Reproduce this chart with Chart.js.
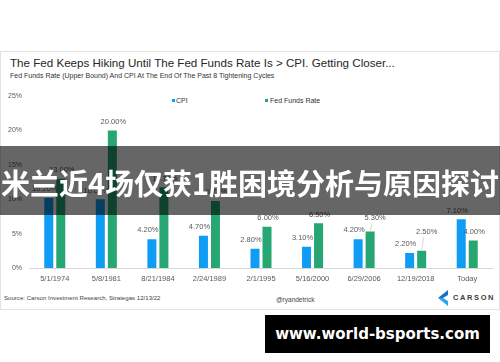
<!DOCTYPE html>
<html>
<head>
<meta charset="utf-8">
<script src="https://cdn.jsdelivr.net/npm/chart.js@4/dist/chart.umd.min.js"></script>
<style>
  html, body { margin: 0; padding: 0; background: #fff; }
  body { width: 500px; height: 362px; position: relative; overflow: hidden; font-family: "Liberation Sans", Arial, sans-serif; }
  .abs { position: absolute; white-space: nowrap; }
  #panel { position: absolute; left: 0; top: 51px; width: 498px; height: 257px; border: 1px solid #e3e3e3; }
  #title { left: 10px; top: 57px; font-size: 11.6px; line-height: 12px; color: #262626; }
  #subtitle { left: 10px; top: 72px; font-size: 7px; line-height: 7px; color: #333; }
  .lg { top: 97px; font-size: 7px; line-height: 7px; color: #333; }
  .sq { position: absolute; width: 3px; height: 3px; top: 99px; }
  #chartWrap { position: absolute; left: 0; top: 85px; width: 500px; height: 200px; }
  #source { left: 4px; top: 295px; font-size: 6.1px; line-height: 6px; color: #444; }
  #handle { left: 276px; top: 296px; font-size: 6.5px; line-height: 7px; color: #444; }
  #carson { left: 453px; top: 294px; font-size: 7.5px; line-height: 8px; color: #3d3d3d; letter-spacing: 1.6px; font-weight: bold; }
  #logo { position: absolute; left: 438px; top: 290px; }
  #banner { position: absolute; left: 0; top: 146px; width: 500px; height: 69px; background: rgba(0,0,0,0.6);
            color: #fff; font-family: "Noto Sans CJK SC", sans-serif; font-weight: bold; font-size: 29px;
            line-height: 72px; text-align: center; white-space: nowrap; letter-spacing: 0px; }
  #wm { position: absolute; left: 265px; top: 315px; width: 225px; height: 38px; background: #000; color: #fff;
        font-family: "DejaVu Sans", sans-serif; font-weight: bold; font-size: 15px; line-height: 38px; text-align: center; white-space: nowrap; }
</style>
</head>
<body>
<div id="panel"></div>
<div id="title" class="abs">The Fed Keeps Hiking Until The Fed Funds Rate Is &gt; CPI. Getting Closer...</div>
<div id="subtitle" class="abs">Fed Funds Rate (Upper Bound) And CPI At The End Of The Past 8 Tightening Cycles</div>
<div class="sq" style="left:172px;background:#0f9cf5"></div>
<div class="abs lg" style="left:176px">CPI</div>
<div class="sq" style="left:265px;background:#26a672"></div>
<div class="abs lg" style="left:270px">Fed Funds Rate</div>
<div id="chartWrap"><canvas id="c" width="500" height="200"></canvas></div>
<div id="source" class="abs">Source: Carson Investment Research, Strategas 12/13/22</div>
<div id="handle" class="abs">@ryandetrick</div>
<svg id="logo" width="12" height="16" viewBox="0 0 12 16">
  <polygon points="10,0 10,5 5,8 0,8" fill="#1b6fc2"/>
  <polygon points="0,8 5,8 10,11 10,16" fill="#2fa6e8"/>
</svg>
<div id="carson" class="abs">CARSON</div>
<div id="banner">米兰近4场仅获1胜困境分析与原因探讨</div>
<div id="wm">www.world-bsports.com</div>
<script>
const categories = ['5/1/1974', '5/8/1981', '8/21/1984', '2/24/1989', '2/1/1995', '5/16/2000', '6/29/2006', '12/19/2018', 'Today'];
const cpiValues = [10.2, 10.0, 4.2, 4.7, 2.8, 3.1, 4.2, 2.2, 7.1];
const fedFundsValues = [13.0, 20.0, 11.75, 9.75, 6.0, 6.5, 5.3, 2.5, 4.0];
const yTickValues = [0, 5, 10, 15, 20, 25];

const barLabels = {
  id: 'barLabels',
  afterDatasetsDraw(chart) {
    const ctx = chart.ctx;
    ctx.save();
    ctx.font = '7.5px "Liberation Sans", Arial, sans-serif';
    ctx.textAlign = 'center';
    ctx.textBaseline = 'bottom';
    const m0 = chart.getDatasetMeta(0), m1 = chart.getDatasetMeta(1);
    const d0 = chart.data.datasets[0].data, d1 = chart.data.datasets[1].data;
    m0.data.forEach((b0, j) => {
      const b1 = m1.data[j];
      const l0 = { x: b0.x - 4, y: b0.y - 5, bar: b0, t: d0[j].toFixed(2) + '%' };
      const l1 = { x: b1.x + 1, y: b1.y - 5, bar: b1, t: d1[j].toFixed(2) + '%' };
      // labels colliding: lift the label of the taller bar above the other one
      const w0 = ctx.measureText(l0.t).width, w1 = ctx.measureText(l1.t).width;
      if (Math.abs(l0.y - l1.y) < 10 && Math.abs(l0.x - l1.x) < (w0 + w1) / 2 + 2) {
        const hi = l0.y <= l1.y ? l0 : l1, lo = hi === l0 ? l1 : l0;
        hi.y = lo.y - 12;
        hi.x += hi === l1 ? 4 : -4;
        hi.lead = true;
      }
      [l0, l1].forEach(l => {
        if (l.lead) {
          ctx.strokeStyle = '#bfbfbf';
          ctx.lineWidth = 0.6;
          ctx.beginPath();
          ctx.moveTo(l.x - 3, l.y + 1);
          ctx.lineTo(l.bar.x, l.bar.y - 1);
          ctx.stroke();
        }
        ctx.fillStyle = '#595959';
        ctx.fillText(l.t, l.x, l.y);
      });
    });
    ctx.restore();
  }
};

new Chart(document.getElementById('c'), {
  type: 'bar',
  data: {
    labels: categories,
    datasets: [
      { label: 'CPI', data: cpiValues, backgroundColor: '#0f9cf5' },
      { label: 'Fed Funds Rate', data: fedFundsValues, backgroundColor: '#26a672' }
    ]
  },
  options: {
    responsive: false,
    animation: false,
    events: [],
    layout: { padding: { left: 0, right: 7, top: 7, bottom: 0 } },
    datasets: { bar: { categoryPercentage: 0.466, barPercentage: 0.75 } },
    plugins: { legend: { display: false }, tooltip: { enabled: false }, title: { display: false } },
    scales: {
      x: {
        grid: { display: false, drawTicks: false },
        border: { display: true, color: '#d9d9d9' },
        ticks: { color: '#595959', font: { size: 7.5, family: '"Liberation Sans", Arial, sans-serif' }, padding: 6, maxRotation: 0, autoSkip: false },
        afterFit(s) { s.height = 17; }
      },
      y: {
        min: 0, max: 25,
        afterBuildTicks(s) { s.ticks = yTickValues.map(v => ({ value: v })); },
        grid: { display: false, drawTicks: false },
        border: { display: false },
        ticks: { color: '#595959', font: { size: 7, family: '"Liberation Sans", Arial, sans-serif' }, padding: 7, callback: v => v + '%' },
        afterFit(s) { s.width = 29; }
      }
    }
  },
  plugins: [barLabels]
});
</script>
</body>
</html>
